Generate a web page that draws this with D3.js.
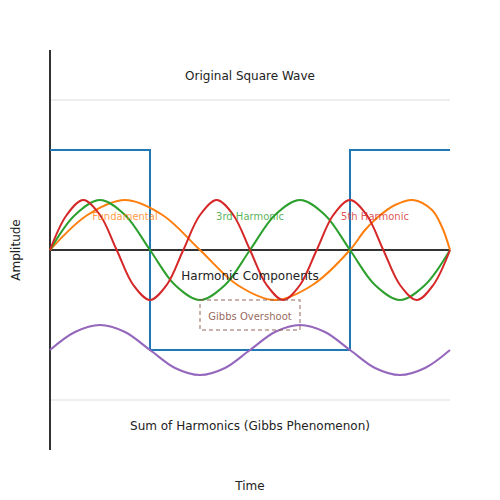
<!DOCTYPE html>
<meta charset="utf-8">
<script src="https://d3js.org/d3.v7.min.js"></script>
<style>
  body { margin: 0; background: #fff; }
  text { font-family: "DejaVu Sans", sans-serif; }
</style>
<div id="chart"></div>
<script>

// ---- data (time 0..4, amplitude -2..2) ----
var squareT = [0, 1, 3, 4];
var squareV = [1, -1, 1, 1];

// fundamental
var fundT = [0, 0.375, 0.75, 1.125, 1.5, 1.875, 2.25, 2.625, 3.0, 3.15, 3.28, 3.45, 3.63, 3.82, 3.92, 4.0];
var fundV = [0, 0.35, 0.5, 0.35, 0, -0.35, -0.5, -0.35, 0, 0.2, 0.33, 0.45, 0.5, 0.4, 0.23, 0];

// 3rd harmonic
var thirdT = [0, 0.25, 0.5, 0.75, 1, 1.25, 1.5, 1.75, 2, 2.25, 2.5, 2.75, 3, 3.25, 3.5, 3.75, 4];
var thirdV = [0, 0.35, 0.5, 0.35, 0, -0.35, -0.5, -0.35, 0, 0.35, 0.5, 0.35, 0, -0.35, -0.5, -0.35, 0];

// 5th harmonic
var fifthT = [0, 0.167, 0.333, 0.5, 0.667, 0.833, 1, 1.167, 1.333, 1.5, 1.667, 1.833, 2,
              2.167, 2.333, 2.5, 2.667, 2.833, 3, 3.167, 3.333, 3.5, 3.667, 3.833, 4];
var fifthV = [0, 0.35, 0.5, 0.35, 0, -0.35, -0.5, -0.35, 0, 0.35, 0.5, 0.35, 0,
              -0.35, -0.5, -0.35, 0, 0.35, 0.5, 0.35, 0, -0.35, -0.5, -0.35, 0];

// sum of harmonics (drawn below)
var sumT = [0, 0.25, 0.5, 0.75, 1, 1.25, 1.5, 1.75, 2, 2.25, 2.5, 2.75, 3, 3.25, 3.5, 3.75, 4];
var sumV = [-1, -0.82, -0.75, -0.82, -1, -1.18, -1.25, -1.18, -1, -0.82, -0.75, -0.82, -1, -1.18, -1.25, -1.18, -1];

var gridV = [1.5, -1.5];

var labels = [
  {text: "Original Square Wave", t: 2, v: 1.74, color: "#222", size: 12, op: 1},
  {text: "Fundamental", t: 0.75, v: 0.33, color: "#ff7f0e", size: 10, op: 0.8},
  {text: "3rd Harmonic", t: 2, v: 0.33, color: "#2ca02c", size: 10, op: 0.8},
  {text: "5th Harmonic", t: 3.25, v: 0.33, color: "#d62728", size: 10, op: 0.8},
  {text: "Harmonic Components", t: 2, v: -0.26, color: "#222", size: 12, op: 1},
  {text: "Gibbs Overshoot", t: 2, v: -0.67, color: "#8c564b", size: 10, op: 0.9},
  {text: "Sum of Harmonics (Gibbs Phenomenon)", t: 2, v: -1.76, color: "#222", size: 12, op: 1}
];

// ---- layout ----
var margin = {top: 50, right: 50, bottom: 50, left: 50},
    width = 500 - margin.left - margin.right,
    height = 500 - margin.top - margin.bottom;

var svg = d3.select("#chart")
  .append("svg")
    .attr("width", 500)
    .attr("height", 500)
  .append("g")
    .attr("transform", "translate(" + margin.left + "," + margin.top + ")");

var x = d3.scaleLinear().domain([0, 4]).range([0, width]);
var y = d3.scaleLinear().domain([-2, 2]).range([height, 0]);

// light guide lines
svg.selectAll(".grid")
  .data(gridV)
  .enter().append("line")
    .attr("x1", x(0)).attr("x2", x(4))
    .attr("y1", function(d) { return y(d); })
    .attr("y2", function(d) { return y(d); })
    .attr("stroke", "#eeeeee")
    .attr("stroke-width", 2);

// y axis line and zero line
svg.append("line")
  .attr("x1", x(0)).attr("x2", x(0))
  .attr("y1", y(2)).attr("y2", y(-2))
  .attr("stroke", "#333").attr("stroke-width", 2);
svg.append("line")
  .attr("x1", x(0)).attr("x2", x(4))
  .attr("y1", y(0)).attr("y2", y(0))
  .attr("stroke", "#333").attr("stroke-width", 2);

function zip(ts, vs) { return ts.map(function(t, i) { return [t, vs[i]]; }); }

var smooth = d3.line()
  .x(function(d) { return x(d[0]); })
  .y(function(d) { return y(d[1]); })
  .curve(d3.curveCatmullRom.alpha(0.5));

var step = d3.line()
  .x(function(d) { return x(d[0]); })
  .y(function(d) { return y(d[1]); })
  .curve(d3.curveStepAfter);

// square wave
svg.append("path")
  .attr("d", step(zip(squareT, squareV)))
  .attr("fill", "none").attr("stroke", "#1f77b4").attr("stroke-width", 2);

var series = [
  {t: fundT, v: fundV, color: "#ff7f0e"},
  {t: thirdT, v: thirdV, color: "#2ca02c"},
  {t: fifthT, v: fifthV, color: "#d62728"},
  {t: sumT, v: sumV, color: "#9467bd"}
];

svg.selectAll(".wave")
  .data(series)
  .enter().append("path")
    .attr("d", function(d) { return smooth(zip(d.t, d.v)); })
    .attr("fill", "none")
    .attr("stroke", function(d) { return d.color; })
    .attr("stroke-width", 2);

// gibbs overshoot box
svg.append("rect")
  .attr("x", x(1.5)).attr("y", y(-0.5))
  .attr("width", x(2.5) - x(1.5))
  .attr("height", y(-0.8) - y(-0.5))
  .attr("fill", "none")
  .attr("stroke", "#8c564b").attr("stroke-opacity", 0.6)
  .attr("stroke-width", 1.5)
  .attr("stroke-dasharray", "4,3");

// labels
svg.selectAll(".lbl")
  .data(labels)
  .enter().append("text")
    .attr("x", function(d) { return x(d.t); })
    .attr("y", function(d) { return y(d.v); })
    .attr("text-anchor", "middle")
    .attr("dominant-baseline", "middle")
    .attr("fill", function(d) { return d.color; })
    .attr("fill-opacity", function(d) { return d.op; })
    .style("font-size", function(d) { return d.size + "px"; })
    .text(function(d) { return d.text; });

// axis titles
svg.append("text")
  .attr("x", width / 2).attr("y", height + 36)
  .attr("text-anchor", "middle")
  .attr("dominant-baseline", "middle")
  .attr("fill", "#222")
  .style("font-size", "12px")
  .text("Time");

svg.append("text")
  .attr("transform", "translate(" + (-34) + "," + (height / 2) + ") rotate(-90)")
  .attr("text-anchor", "middle")
  .attr("dominant-baseline", "middle")
  .attr("fill", "#222")
  .style("font-size", "12px")
  .text("Amplitude");

</script>
